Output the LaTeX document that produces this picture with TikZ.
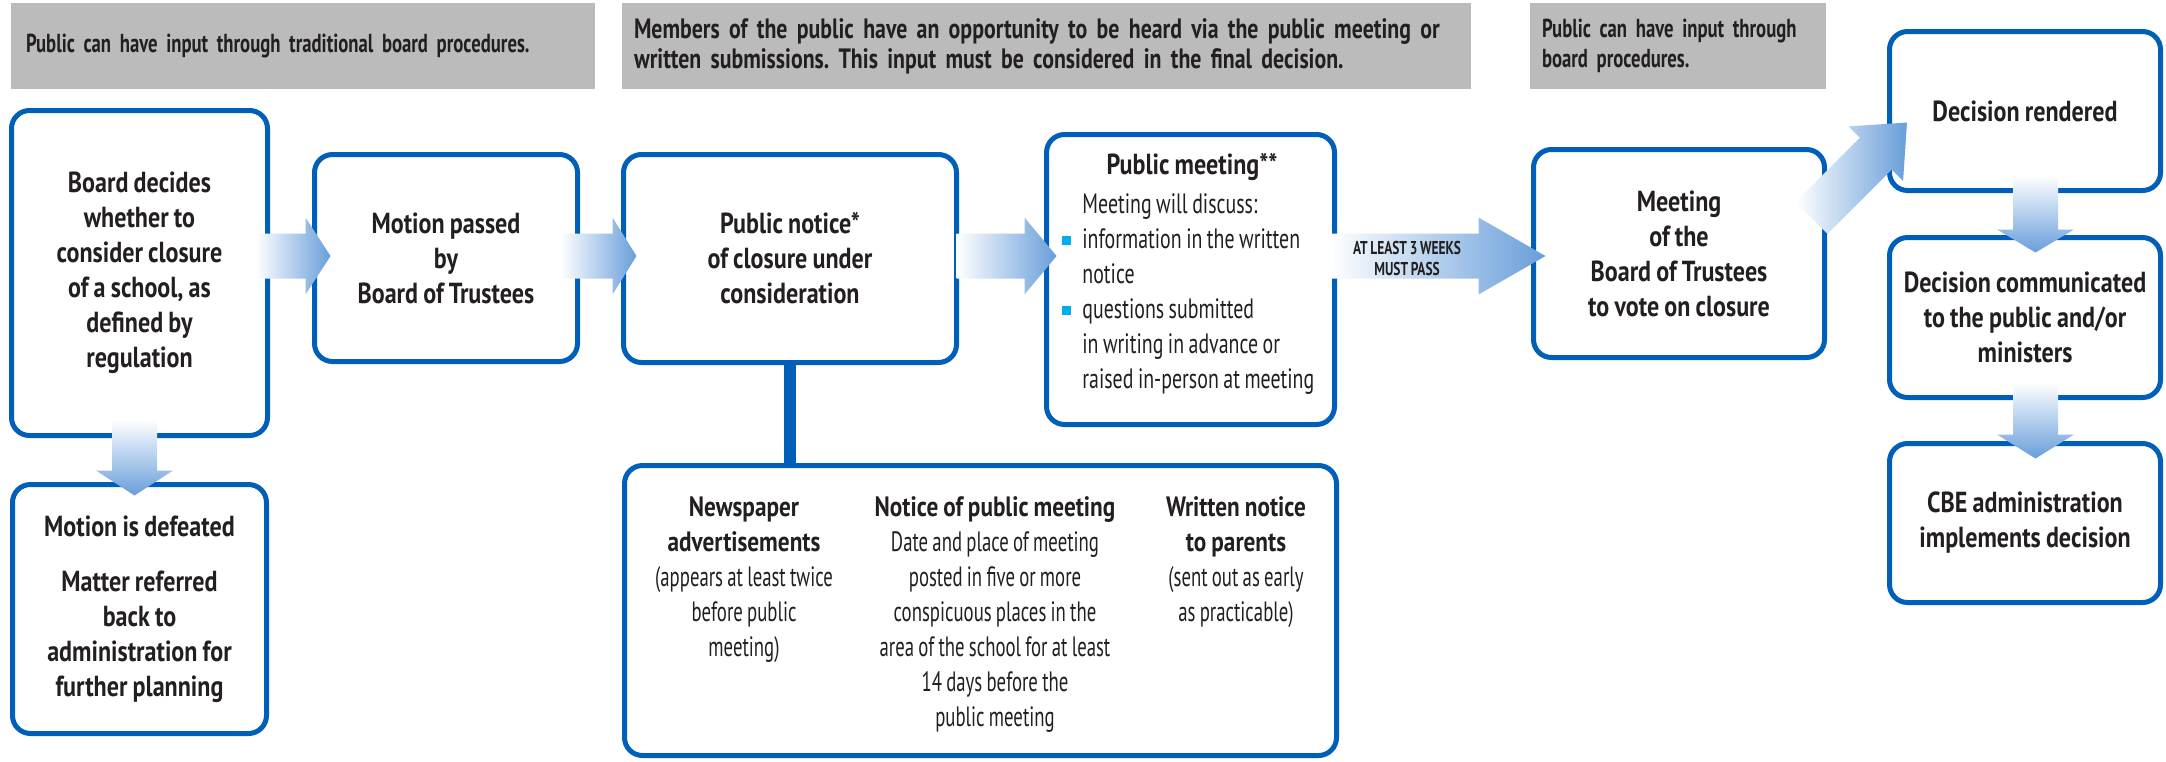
\documentclass[tikz,border=0pt]{standalone}
\usepackage{fontspec}
\setmainfont{PT Sans}[FakeStretch=0.83, WordSpace=0.85]
\newfontfamily\lightfont{PT Sans}[FakeStretch=0.67, WordSpace=0.85]
\newfontfamily\listfont{PT Sans}[FakeStretch=0.71, WordSpace=0.85]
\newfontfamily\greyfamily{PT Sans}[FakeStretch=0.72, WordSpace=0.7]
\newfontfamily\widegreyfamily{PT Sans}[FakeStretch=0.78, WordSpace=0.7]
\newfontfamily\passfamily{PT Sans}[FakeStretch=0.72, WordSpace=0.8]
\usetikzlibrary{calc}
\definecolor{boxblue}{RGB}{0,96,185}
\definecolor{arrowblue}{RGB}{104,158,218}
\definecolor{greyfill}{RGB}{187,187,187}
\definecolor{textdark}{RGB}{35,31,32}
\definecolor{bulletcyan}{RGB}{0,174,239}
\newcommand\flowfont{\fontsize{14.5pt}{17.5pt}\selectfont\bfseries}
\newcommand\greyfont{\fontsize{13pt}{15pt}\selectfont\greyfamily\bfseries}
\newcommand\widegreyfont{\fontsize{14pt}{15pt}\selectfont\widegreyfamily\bfseries}
\newcommand\notefont{\fontsize{14pt}{17.5pt}\selectfont\lightfont}
\newcommand\listnotefont{\fontsize{14pt}{17.5pt}\selectfont\listfont}
\newcommand\passfont{\fontsize{9.3pt}{10.5pt}\selectfont\passfamily\bfseries}
\newcommand\headline[1]{{\normalfont\bfseries #1}}
\newcommand\pmbullet{\llap{\textcolor{bulletcyan}{\rule[1.5pt]{4.5pt}{4.5pt}}\hspace{5.5pt}}}
% #1 shading, #2 start, #3 angle, #4 shaft length, #5 head length
\newcommand\fatarrow[5]{\shade[#1, shift={#2}, rotate=#3] (0,-22.5) -- (#4,-22.5) -- (#4,-38.5) -- ({#4+#5},0) -- (#4,38.5) -- (#4,22.5) -- (0,22.5) -- cycle;}
\frenchspacing
\begin{document}
\begin{tikzpicture}[x=0.5pt, y=-0.5pt,
  flow node/.style={draw=boxblue, line width=2.5pt, rounded corners=9pt, fill=white, align=center, font=\flowfont, text=textdark, inner sep=0pt},
  grey node/.style={fill=greyfill, align=left, font=\greyfont, text=textdark, minimum height=43pt, inner xsep=6pt, inner ysep=0pt},
  note text/.style={align=center, font=\notefont, text=textdark, inner sep=0pt, anchor=north}]
\useasboundingbox (0,0) rectangle (2166,761);
\clip (0,0) rectangle (2166,761);
\fill[white] (0,0) rectangle (2166,761);
\begin{scope}[every node/.style={grey node}]
\node[inner xsep=7.5pt, text width=277pt] (inputa) at (303,46) {Public can have input through traditional board procedures.};%1
\node[text width=412.5pt, font=\widegreyfont] (inputb) at (1046.5,46) {Members of the public have an opportunity to be heard via the public meeting or\\written submissions. This input must be considered in the final decision.};%2
\node[text width=136pt] (inputc) at (1678,46) {Public can have input through\\board procedures.};%3
\end{scope}
\begin{scope}[every node/.style={flow node}]
\node[minimum width=128pt, minimum height=162.5pt] (board) at (139.5,273) {Board decides\\whether to\\consider closure\\of a school, as\\defined by\\regulation};
\node[minimum width=131.5pt, minimum height=103.5pt] (motion) at (446,258) {Motion passed\\by\\Board of Trustees};
\node[minimum width=166.5pt, minimum height=104pt] (notice) at (790,258.5) {Public notice*\\of closure under\\consideration};
\node[minimum width=144pt, minimum height=145pt] (pubmeet) at (1190.5,279.5) {};
\node[minimum width=145.5pt, minimum height=104pt] (vote) at (1679,253.5) {Meeting\\of the\\Board of Trustees\\to vote on closure};
\node[minimum width=135.5pt, minimum height=79.5pt] (rendered) at (2025,111) {Decision rendered};
\node[minimum width=135.5pt, minimum height=80pt] (communicated) at (2025,317.5) {Decision communicated\\to the public and/or\\ministers};
\node[minimum width=135.5pt, minimum height=79.5pt] (implements) at (2025,523) {CBE administration\\implements decision};
\node[minimum width=127pt, minimum height=124.5pt] (defeated) at (139.5,609) {Motion is defeated\\[10pt]Matter referred\\back to\\administration for\\further planning};
\node[minimum width=356pt, minimum height=145pt] (channels) at (980.5,610.5) {};
\end{scope}
\draw[boxblue, line width=6pt] (notice.south) -- (notice.south |- channels.north);
% text inside the public meeting box
\node[font=\flowfont, text=textdark] (pmtitle) at (1192,167) {Public meeting**};
\node[note text, anchor=north west, align=left, font=\listnotefont] (pmlist) at (1082,193) {Meeting will discuss:\\\pmbullet information in the written\\notice\\\pmbullet questions submitted\\in writing in advance or\\raised in-person at meeting};
% the three kinds of notice
\node[note text] (newsads) at (744,496) {\headline{Newspaper}\\\headline{advertisements}\\(appears at least twice\\before public\\meeting)};
\node[note text] (meetnotice) at (995,496) {\headline{Notice of public meeting}\\Date and place of meeting\\posted in five or more\\conspicuous places in the\\area of the school for at least\\14 days before the\\public meeting};
\node[note text] (parentnotice) at (1236,496) {\headline{Written notice}\\\headline{to parents}\\(sent out as early\\as practicable)};
% arrows
\coordinate (arrowrow) at (0,256);
\fatarrow{left color=white,right color=arrowblue}{($(board.east |- arrowrow)+(-14.5,0)$)}{0}{50}{25}
\fatarrow{left color=white,right color=arrowblue}{($(motion.east |- arrowrow)+(-19.5,0)$)}{0}{52}{24}
\fatarrow{left color=white,right color=arrowblue}{($(notice.east |- arrowrow)+(-2.5,0)$)}{0}{68}{32}
\fatarrow{left color=white,right color=arrowblue}{($(pubmeet.east |- arrowrow)+(-7.5,0)$)}{0}{149}{67}
\fatarrow{left color=white,right color=arrowblue}{($(vote.east)+(-15.5,-35.5)$)}{45}{91}{44}
\fatarrow{top color=white,bottom color=arrowblue}{($(board.south)+(-5,-18.5)$)}{-90}{51}{25}
\fatarrow{top color=white,bottom color=arrowblue}{($(rendered.south)+(10.5,-17.5)$)}{-90}{54}{23}
\fatarrow{top color=white,bottom color=arrowblue}{($(communicated.south)+(10.5,-17.5)$)}{-90}{52}{24}
\node[font=\passfont, text=textdark, align=center] (weeks) at (1407,258.5) {AT LEAST 3 WEEKS\\MUST PASS};
\end{tikzpicture}
\end{document}
